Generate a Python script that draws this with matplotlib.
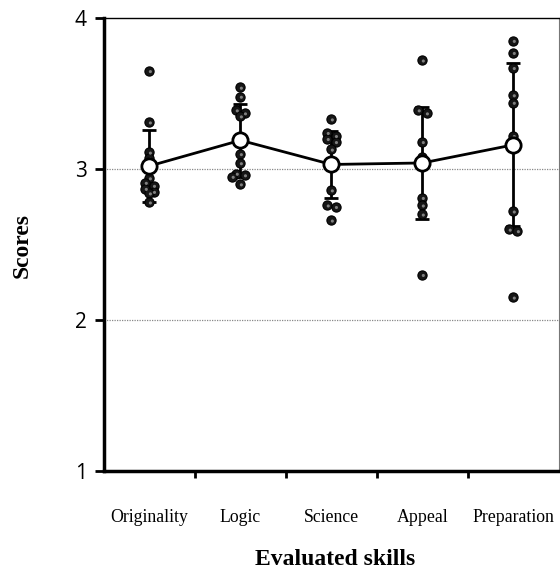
import numpy as np
import matplotlib.pyplot as plt

skills = ["Originality", "Logic", "Science", "Appeal", "Preparation"]

originality = [3.65, 3.31, 3.11, 3.07, 2.94, 2.91, 2.89, 2.87, 2.85, 2.84, 2.78]
logic = [3.54, 3.48, 3.39, 3.37, 3.35, 3.10, 3.04, 2.97, 2.96, 2.95, 2.90]
science = [3.33, 3.24, 3.22, 3.20, 3.18, 3.13, 3.03, 2.86, 2.76, 2.75, 2.66]
appeal = [3.72, 3.39, 3.37, 3.18, 3.08, 2.81, 2.76, 2.70, 2.30]
preparation = [3.85, 3.77, 3.67, 3.49, 3.44, 3.22, 2.72, 2.60, 2.59, 2.15]

means = [3.02, 3.19, 3.03, 3.04, 3.16]
sds = [0.24, 0.24, 0.22, 0.37, 0.54]

scores = [originality, logic, science, appeal, preparation]


def dodge(vals, gap=0.028, step=0.09):
    # simple swarm: push a point sideways when it sits on top of a neighbour
    placed = []
    offs = []
    for v in vals:
        off = 0.0
        k = 0
        while any(abs(v - pv) < gap and abs(off - po) < step * 0.9 for pv, po in placed):
            k += 1
            off = step * ((k + 1) // 2) * (1 if k % 2 else -1)
        placed.append((v, off))
        offs.append(off)
    offs = np.array(offs)
    # centre pairs that were pushed apart
    for i in range(1, len(vals)):
        if offs[i] != 0 and offs[i - 1] == 0 and abs(vals[i] - vals[i - 1]) < gap:
            offs[i - 1] = -offs[i] / 2
            offs[i] = offs[i] / 2
    return offs


fig = plt.figure(figsize=(5.6, 5.71), dpi=100)
ax = fig.add_axes([0.1857, 0.1751, 0.8123, 0.7934])

x = np.arange(len(skills)) + 0.5

ax.axhline(3, color='#888888', lw=0.9, ls=(0, (1, 1)), zorder=0)
ax.axhline(2, color='#888888', lw=0.9, ls=(0, (1, 1)), zorder=0)

ax.errorbar(x, means, yerr=sds, fmt='none', ecolor='black', elinewidth=2,
            capsize=5, capthick=2, zorder=2)

for xi, vals in zip(x, scores):
    vals = np.array(vals)
    dx = dodge(vals)
    ax.scatter(xi + dx, vals, s=44, facecolor='#161616',
               edgecolor='black', linewidths=0.8, zorder=3)
    ax.scatter(xi + dx + 0.01, vals - 0.005, s=5, facecolor='#808080',
               edgecolor='none', zorder=4)

ax.plot(x, means, color='black', lw=2, marker='o', ms=11, mfc='white',
        mec='black', mew=2, zorder=5)

ax.set_xlim(0, 5)
ax.set_ylim(1, 4)
ax.set_yticks([1, 2, 3, 4])
ax.set_yticklabels(['1', '2', '3', '4'], family='Open Sans', fontsize=15)
ax.set_xticks([1, 2, 3, 4])
ax.set_xticklabels([])
ax.set_xticks(x, minor=True)
ax.set_xticklabels(skills, minor=True, family='Liberation Serif', fontsize=12.8)
ax.tick_params(axis='y', length=6.5, width=2, pad=6)
ax.tick_params(axis='x', which='major', length=5, width=2)
ax.tick_params(axis='x', which='minor', length=0, pad=27)

ax.spines['left'].set_linewidth(2.5)
ax.spines['bottom'].set_linewidth(2.5)
ax.spines['top'].set_linewidth(1)
ax.spines['right'].set_linewidth(0.8)
ax.spines['right'].set_color('#777777')

fig.text(22 / 560, 1 - 245 / 571, 'Scores', family='Liberation Serif', fontweight='bold',
         fontsize=17, rotation=90, ha='center', va='center')
fig.text(335 / 560, 6 / 571, 'Evaluated skills', family='Liberation Serif', fontweight='bold',
         fontsize=17, ha='center', va='baseline')

plt.savefig('out.png', dpi=100)
